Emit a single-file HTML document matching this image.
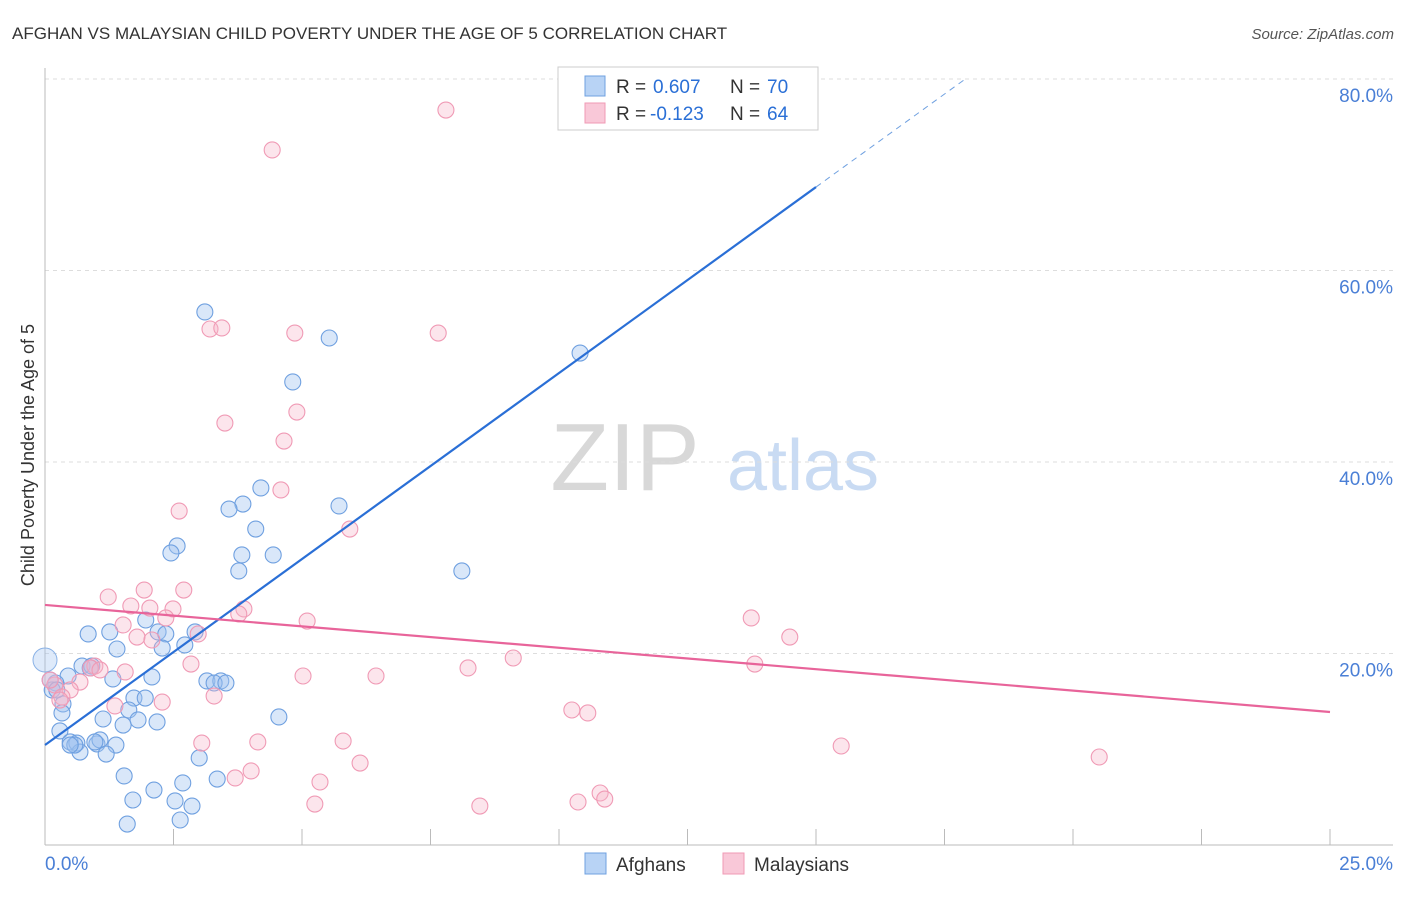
<!DOCTYPE html>
<html><head><meta charset="utf-8"><style>
body{margin:0;background:#fff;font-family:"Liberation Sans",sans-serif;}
svg text{font-family:"Liberation Sans",sans-serif;}
</style></head><body>
<svg id="chart" width="1406" height="892" xmlns="http://www.w3.org/2000/svg">
<text x="12" y="39" font-size="17" fill="#333">AFGHAN VS MALAYSIAN CHILD POVERTY UNDER THE AGE OF 5 CORRELATION CHART</text>
<text x="1394" y="39" font-size="15" fill="#555" text-anchor="end" font-style="italic">Source: ZipAtlas.com</text>
<g>
<text x="625" y="490" font-size="96" fill="#d8d8d8" font-family="Liberation Serif" text-anchor="middle">ZIP</text>
<text x="803" y="490" font-size="72" fill="#c9dbf3" text-anchor="middle">atlas</text>
</g>
<g id="grid"></g>
<g id="axes"></g>
<g id="marks"></g>
<text transform="translate(34,455) rotate(-90)" font-size="18" fill="#333" text-anchor="middle">Child Poverty Under the Age of 5</text>
<g>
<rect x="558" y="67" width="260" height="63" fill="#fff" stroke="#ccc"/>
<rect x="585" y="76" width="20" height="20" fill="#b8d3f5" stroke="#6fa0e0"/>
<rect x="585" y="103" width="20" height="20" fill="#f9c8d8" stroke="#f09ab5"/>
<text x="616" y="93" font-size="19" fill="#333">R =</text>
<text x="653" y="93" font-size="19" fill="#2a6fd6">0.607</text>
<text x="730" y="93" font-size="19" fill="#333">N =</text>
<text x="767" y="93" font-size="19" fill="#2a6fd6">70</text>
<text x="616" y="120" font-size="19" fill="#333">R =</text>
<text x="650" y="120" font-size="19" fill="#2a6fd6">-0.123</text>
<text x="730" y="120" font-size="19" fill="#333">N =</text>
<text x="767" y="120" font-size="19" fill="#2a6fd6">64</text>
</g>
<g>
<rect x="585" y="853" width="21" height="21" fill="#b8d3f5" stroke="#6fa0e0"/>
<text x="616" y="871" font-size="19" fill="#333">Afghans</text>
<rect x="723" y="853" width="21" height="21" fill="#f9c8d8" stroke="#f09ab5"/>
<text x="754" y="871" font-size="19" fill="#333">Malaysians</text>
</g>
</svg>
<script>
const yTicks=[20,40,60,80];
const yTickLabels=["20.0%","40.0%","60.0%","80.0%"];
const xTicks=[0,2.5,5,7.5,10,12.5,15,17.5,20,22.5,25];
const afghanX=[3.11,5.53,4.82,10.41,4.20,3.85,3.58,5.72,4.10,2.57,2.45,3.83,4.44,3.77,8.11,0.84,1.26,1.96,2.20,2.35,2.92,2.72,2.28,1.40,0.72,0.91,0.45,0.21,0.14,1.32,2.08,3.15,3.42,3.29,3.52,0.35,0.33,1.73,1.95,1.63,1.13,1.81,2.18,1.52,4.55,0.29,0.49,0.62,0.68,1.01,1.07,0.97,1.38,1.19,3.00,1.54,3.35,2.68,2.12,1.71,2.53,2.86,2.63,1.60,0.10,0.58,0.88,0.49,0.23];
const afghanY=[55.67,52.95,48.36,51.38,37.29,35.61,35.09,35.41,33.00,31.23,30.50,30.29,30.29,28.62,28.62,22.04,22.25,23.50,22.25,22.04,22.25,20.89,20.57,20.47,18.69,18.69,17.65,16.92,16.19,17.34,17.55,17.13,17.13,16.92,16.92,14.73,13.79,15.35,15.35,14.10,13.16,13.06,12.85,12.53,13.37,11.91,10.76,10.65,9.71,10.55,10.97,10.76,10.44,9.50,9.09,7.21,6.89,6.48,5.74,4.70,4.60,4.07,2.61,2.19,17.23,10.44,18.49,10.44,16.19];
const malayX=[7.80,4.42,3.21,3.44,4.86,7.65,4.90,3.50,4.65,4.59,2.61,5.93,1.93,2.70,1.23,1.67,2.04,2.49,3.87,3.77,2.35,5.10,1.52,2.98,1.79,13.74,14.49,2.08,0.97,0.89,1.56,2.84,8.23,9.11,13.81,5.02,6.44,0.68,0.19,0.49,0.33,3.29,2.28,1.36,10.25,10.56,3.05,4.14,5.80,15.49,20.51,6.13,4.01,3.70,5.35,10.80,10.89,10.37,5.25,8.46,0.10,0.29,1.07];
const malayY=[76.76,72.59,53.89,54.00,53.47,53.47,45.22,44.07,42.19,37.08,34.88,33.00,26.63,26.63,25.90,24.96,24.75,24.65,24.65,24.13,23.71,23.39,22.98,22.04,21.72,23.71,21.72,21.41,18.69,18.49,18.07,18.90,18.49,19.53,18.90,17.65,17.65,17.02,16.71,16.19,15.46,15.56,14.93,14.52,14.10,13.79,10.65,10.76,10.86,10.34,9.19,8.56,7.73,7.00,6.58,5.43,4.80,4.49,4.28,4.07,17.23,15.14,18.28];
const afghanTrend=[10.44,3.885];
const malayTrend=[25.07,-0.4472];
const NS="http://www.w3.org/2000/svg";
const X0=45,X1=1330,Y0=845,YPER=9.575;
const xs=v=>X0+(v/25)*(X1-X0);
const ys=v=>Y0-v*YPER;
function mk(tag,attrs,parent){const e=document.createElementNS(NS,tag);for(const k in attrs)e.setAttribute(k,attrs[k]);document.getElementById(parent).appendChild(e);return e;}
yTicks.forEach((t,i)=>{
 const l=mk('line',{x1:X0,x2:1393,y1:ys(t),y2:ys(t),stroke:'#ddd','stroke-dasharray':'4,4'},'grid');
 
 
 const tx=mk('text',{x:1393,y:ys(t)+23,'font-size':19,fill:'#4a7fd6','text-anchor':'end'},'grid');
 tx.textContent=yTickLabels[i];
 
 
});
mk('line',{x1:X0,x2:1393,y1:Y0,y2:Y0,stroke:'#bbb'},'axes');
mk('line',{x1:X0,x2:X0,y1:68,y2:Y0,stroke:'#bbb'},'axes');
xTicks.forEach(t=>{
 const l=mk('line',{x1:xs(t),x2:xs(t),y1:Y0,y2:Y0-16,stroke:'#bbb'},'axes');
 
 
});
const xl0=mk('text',{x:45,y:870,'font-size':19,fill:'#4a7fd6'},'axes');xl0.textContent='0.0%';


const xl1=mk('text',{x:1393,y:870,'font-size':19,fill:'#4a7fd6','text-anchor':'end'},'axes');xl1.textContent='25.0%';


const big=mk('circle',{cx:xs(0),cy:ys(19.32),r:12,fill:'rgba(160,196,240,0.35)',stroke:'#8ab2e6','stroke-width':1},'marks');


afghanX.forEach((x,i)=>{
 const c=mk('circle',{cx:xs(x),cy:ys(afghanY[i]),r:8,fill:'rgba(160,196,240,0.4)',stroke:'#6fa0e0','stroke-width':1.1},'marks');
 
 
});
malayX.forEach((x,i)=>{
 const c=mk('circle',{cx:xs(x),cy:ys(malayY[i]),r:8,fill:'rgba(245,180,200,0.35)',stroke:'#f09ab5','stroke-width':1.1},'marks');
 
 
});
const bl=mk('line',{x1:xs(0),y1:ys(afghanTrend[0]),x2:xs(15),y2:ys(afghanTrend[0]+afghanTrend[1]*15),stroke:'#2a6fd6','stroke-width':2.2},'marks');


const bd=mk('line',{x1:xs(15),y1:ys(afghanTrend[0]+afghanTrend[1]*15),x2:xs(17.9),y2:ys(afghanTrend[0]+afghanTrend[1]*17.9),stroke:'#6fa0e0','stroke-width':1,'stroke-dasharray':'6,5'},'marks');


const pl=mk('line',{x1:xs(0),y1:ys(malayTrend[0]),x2:xs(25),y2:ys(malayTrend[0]+malayTrend[1]*25),stroke:'#e8649a','stroke-width':2.2},'marks');


</script>
</body></html>
